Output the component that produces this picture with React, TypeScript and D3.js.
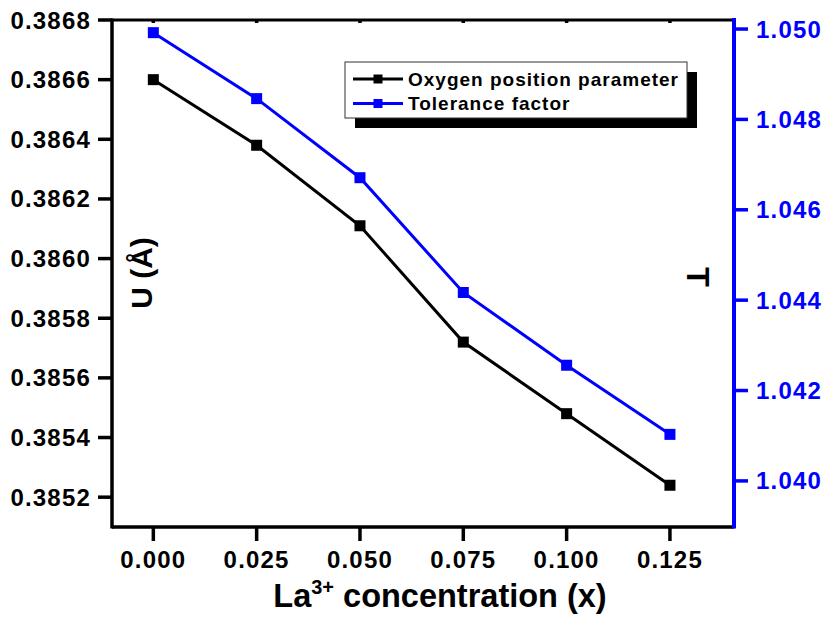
import React, { useEffect, useRef } from "react";
import * as d3 from "d3";

const xValues = [0.0, 0.025, 0.05, 0.075, 0.1, 0.125];
const oxygenU = [0.3866, 0.38638, 0.38611, 0.38572, 0.38548, 0.38524];
const toleranceT = [1.04992, 1.04846, 1.04671, 1.04417, 1.04256, 1.04103];
const xTicks = [0.0, 0.025, 0.05, 0.075, 0.1, 0.125];
const leftTicks = [0.3852, 0.3854, 0.3856, 0.3858, 0.386, 0.3862, 0.3864, 0.3866, 0.3868];
const rightTicks = [1.04, 1.042, 1.044, 1.046, 1.048, 1.05];
const seriesNames = ["Oxygen position parameter", "Tolerance factor"];

const W = 827, H = 619;
const L = 112, R = 734, T = 20, B = 527;
const FONT = "'Liberation Sans', Arial, sans-serif";
const BLUE = "#0000ff";

export default function App() {
  const ref = useRef<SVGSVGElement | null>(null);
  useEffect(() => {
    const svg = d3.select(ref.current);
    svg.selectAll("*").remove();
    const x = d3.scaleLinear().domain([-0.01, 0.1405]).range([L, R]);
    const yL = d3.scaleLinear().domain([0.3851, 0.3868]).range([B, T]);
    const yR = d3.scaleLinear().domain([1.03898, 1.0502]).range([B, T]);

    const g = svg.append("g");
    // frame
    g.append("line").attr("x1", L).attr("x2", R).attr("y1", T).attr("y2", T).attr("stroke", "#000").attr("stroke-width", 3);
    g.append("line").attr("x1", L).attr("x2", R).attr("y1", B).attr("y2", B).attr("stroke", "#000").attr("stroke-width", 3.5);
    g.append("line").attr("x1", L).attr("x2", L).attr("y1", T - 1.5).attr("y2", B + 1.5).attr("stroke", "#000").attr("stroke-width", 3.5);
    g.append("line").attr("x1", R).attr("x2", R).attr("y1", T - 2).attr("y2", B + 1.5).attr("stroke", BLUE).attr("stroke-width", 4);

    // x ticks
    xTicks.forEach((t) => {
      g.append("line").attr("x1", x(t)).attr("x2", x(t)).attr("y1", B).attr("y2", B + 14).attr("stroke", "#000").attr("stroke-width", 3.5);
      g.append("line").attr("x1", x(t)).attr("x2", x(t)).attr("y1", T).attr("y2", T + 3).attr("stroke", "#000").attr("stroke-width", 3.5);
      g.append("text").attr("x", x(t)).attr("y", 568).attr("text-anchor", "middle")
        .attr("font-family", FONT).attr("font-weight", "bold").attr("font-size", 24).attr("letter-spacing", 1.2)
        .text(d3.format(".3f")(t));
    });
    // left ticks
    leftTicks.forEach((t) => {
      g.append("line").attr("x1", L - 14).attr("x2", L).attr("y1", yL(t)).attr("y2", yL(t)).attr("stroke", "#000").attr("stroke-width", 3.5);
      g.append("text").attr("x", 91).attr("y", yL(t) + 8.5).attr("text-anchor", "end")
        .attr("font-family", FONT).attr("font-weight", "bold").attr("font-size", 24).attr("letter-spacing", 1.2)
        .text(d3.format(".4f")(t));
    });
    // right ticks
    rightTicks.forEach((t) => {
      g.append("line").attr("x1", R).attr("x2", R + 14).attr("y1", yR(t)).attr("y2", yR(t)).attr("stroke", BLUE).attr("stroke-width", 3.5);
      g.append("text").attr("x", 756).attr("y", yR(t) + 8.5).attr("text-anchor", "start")
        .attr("font-family", FONT).attr("font-weight", "bold").attr("font-size", 24).attr("letter-spacing", 1.2)
        .attr("fill", BLUE)
        .text(d3.format(".3f")(t));
    });

    // lines
    const lineL = d3.line<number>().x((_, i) => x(xValues[i])).y((d) => yL(d));
    const lineR = d3.line<number>().x((_, i) => x(xValues[i])).y((d) => yR(d));
    g.append("path").attr("d", lineR(toleranceT)).attr("fill", "none").attr("stroke", BLUE).attr("stroke-width", 3);
    g.append("path").attr("d", lineL(oxygenU)).attr("fill", "none").attr("stroke", "#000").attr("stroke-width", 3);
    const ms = 11;
    toleranceT.forEach((v, i) => {
      g.append("rect").attr("x", x(xValues[i]) - ms / 2).attr("y", yR(v) - ms / 2).attr("width", ms).attr("height", ms).attr("fill", BLUE);
    });
    oxygenU.forEach((v, i) => {
      g.append("rect").attr("x", x(xValues[i]) - ms / 2).attr("y", yL(v) - ms / 2).attr("width", ms).attr("height", ms).attr("fill", "#000");
    });

    // axis titles
    const xt = g.append("text").attr("x", 440).attr("y", 607).attr("text-anchor", "middle")
      .attr("font-family", FONT).attr("font-weight", "bold").attr("font-size", 32.5);
    xt.append("tspan").text("La");
    xt.append("tspan").attr("font-size", 20).attr("dy", -13).text("3+");
    xt.append("tspan").attr("dy", 13).text(" concentration (x)");

    g.append("text").attr("transform", `translate(152,273) rotate(-90)`).attr("text-anchor", "middle")
      .attr("font-family", FONT).attr("font-weight", "bold").attr("font-size", 30).text("U (Å)");
    g.append("text").attr("transform", `translate(687,277) rotate(90)`).attr("text-anchor", "middle")
      .attr("font-family", FONT).attr("font-weight", "bold").attr("font-size", 32).text("T");

    // legend
    const lx = 345, ly = 62, lw = 342, lh = 56;
    g.append("rect").attr("x", lx + 10).attr("y", ly + 10).attr("width", lw).attr("height", lh).attr("fill", "#000");
    g.append("rect").attr("x", lx).attr("y", ly).attr("width", lw).attr("height", lh).attr("fill", "#fff").attr("stroke", "#333").attr("stroke-width", 1);
    const colors = ["#000", BLUE];
    seriesNames.forEach((name, i) => {
      const cy = 79 + i * 24.5;
      g.append("line").attr("x1", 353).attr("x2", 403).attr("y1", cy).attr("y2", cy).attr("stroke", colors[i]).attr("stroke-width", 3);
      g.append("rect").attr("x", 378 - 4.5).attr("y", cy - 4.5).attr("width", 9).attr("height", 9).attr("fill", colors[i]);
      g.append("text").attr("x", 408).attr("y", cy + 6.5).attr("font-family", FONT).attr("font-weight", "bold").attr("font-size", 19)
        .attr("letter-spacing", 1)
        .text(name);
    });
  }, []);
  return (
    <svg ref={ref} width={W} height={H} style={{ position: "absolute", left: 0, top: 0, background: "#fff" }} />
  );
}
